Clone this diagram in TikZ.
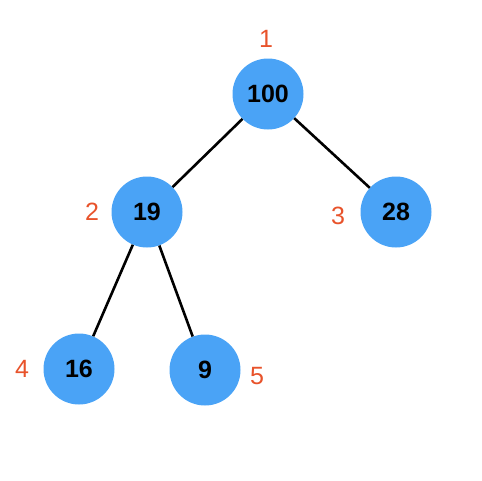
\documentclass[tikz,border=0pt]{standalone}
\usepackage{fontspec}
\setmainfont{Liberation Sans}
\usepackage{tikz}
\usetikzlibrary{positioning}
\definecolor{heapBlue}{HTML}{4AA3F6}
\definecolor{heapInk}{HTML}{000000}
\definecolor{heapOrange}{HTML}{E8532B}
\tikzset{
  every picture/.style={font=\rmfamily},
  heap node/.style={circle, fill=heapBlue, minimum size=71pt, inner sep=0pt,
    text=heapInk, font=\rmfamily\bfseries\fontsize{25}{28}\selectfont},
  heap index/.style={text=heapOrange, inner sep=0pt,
    font=\rmfamily\fontsize{25}{29}\selectfont},
  heap edge/.style={draw=heapInk, line width=2.6pt}
}
\begin{document}
\begin{tikzpicture}[x=1pt,y=-1pt]
  \useasboundingbox (0,0) rectangle (482,480);
  % heap nodes
  \node[heap node] (n1) at (268,94) {100};
  \node[heap node] (n2) at (147,212) {19};
  \node[heap node] (n3) at (396,212) {28};
  \node[heap node] (n4) at (79,369) {16};
  \node[heap node] (n5) at (205,370) {9};
  % indices
  \node[heap index] (i1) at (266,39) {1};
  \node[heap index] (i2) at (92,212) {2};
  \node[heap index] (i3) at (338,216) {3};
  \node[heap index] (i4) at (22,369) {4};
  \node[heap index] (i5) at (257,376) {5};
  % edges
  \draw[heap edge] (n1) -- (n2);
  \draw[heap edge] (n1) -- (n3);
  \draw[heap edge] (n2) -- (n4);
  \draw[heap edge] (n2) -- (n5);
\end{tikzpicture}
\end{document}
